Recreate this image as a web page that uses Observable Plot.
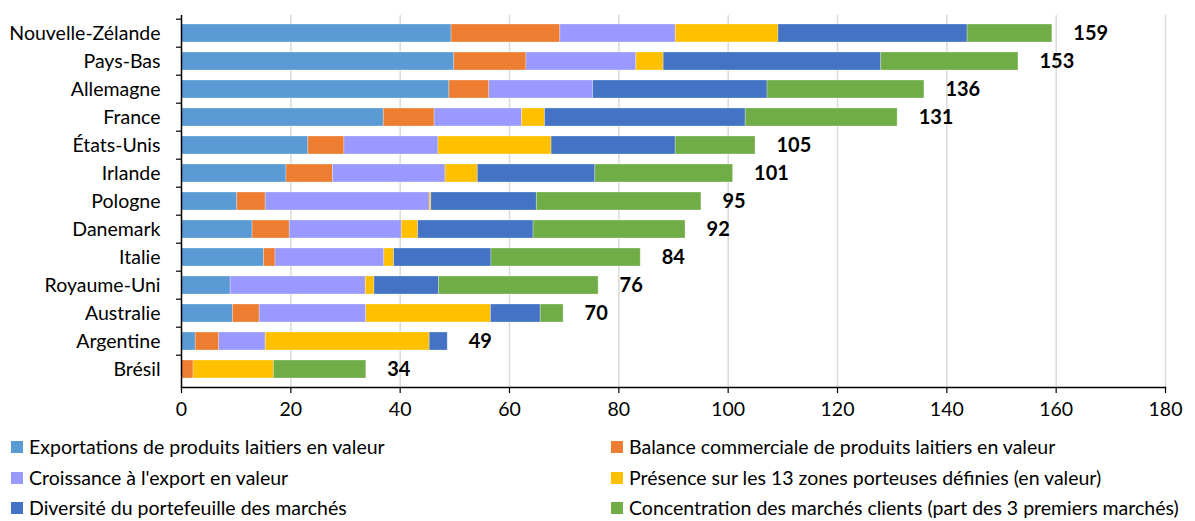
<!DOCTYPE html>
<html>
<head>
<meta charset="utf-8">
<script src="https://cdn.jsdelivr.net/npm/d3@7"></script>
<script src="https://cdn.jsdelivr.net/npm/@observablehq/plot@0.6"></script>
<style>
  html, body { margin: 0; padding: 0; background: #fff; }
  #wrap { width: 1195px; font-family: Lato, "Open Sans", sans-serif; color: #000; }
  #legend { display: grid; grid-template-columns: 600px 595px; grid-auto-rows: 30.5px; margin-top: 7px; font-size: 19.5px; line-height: 1.15; }
  .item { display: flex; align-items: center; }
  .item.l { padding-left: 11px; }
  .item.r { padding-left: 11px; }
  .sw { width: 12px; height: 12px; margin-right: 6px; flex: none; }
</style>
</head>
<body>
<div id="wrap">
  <div id="chart"></div>
  <div id="legend"></div>
</div>
<script>
const countries = ["Nouvelle-Zélande", "Pays-Bas", "Allemagne", "France", "États-Unis", "Irlande", "Pologne", "Danemark", "Italie", "Royaume-Uni", "Australie", "Argentine", "Brésil"];

const seriesNames = [
  "Exportations de produits laitiers en valeur",
  "Balance commerciale de produits laitiers en valeur",
  "Croissance à l'export en valeur",
  "Présence sur les 13 zones porteuses définies (en valeur)",
  "Diversité du portefeuille des marchés",
  "Concentration des marchés clients (part des 3 premiers marchés)"
];
const seriesColors = ["#5B9BD5", "#ED7D31", "#9999FF", "#FFC000", "#4472C4", "#70AD47"];

const exportations   = [49.4, 49.9, 49.0, 37.0, 23.2, 19.2, 10.2, 13.0, 15.1, 9.0, 9.4, 2.6, 0];
const balance        = [19.9, 13.2, 7.3, 9.3, 6.6, 8.5, 5.2, 6.8, 2.1, 0, 4.9, 4.3, 2.2];
const croissance     = [21.1, 20.1, 19.0, 16.0, 17.2, 20.6, 30.0, 20.5, 19.9, 24.7, 19.5, 8.5, 0];
const presence       = [18.8, 5.0, 0, 4.2, 20.7, 5.9, 0.3, 3.0, 1.8, 1.6, 22.8, 30.0, 14.7];
const diversite      = [34.6, 39.8, 31.9, 36.7, 22.7, 21.5, 19.3, 21.1, 17.8, 11.8, 9.1, 3.3, 0];
const concentration  = [15.5, 25.1, 28.7, 27.8, 14.6, 25.2, 30.1, 27.8, 27.3, 29.2, 4.2, 0, 16.9];

const totalLabels = [159, 153, 136, 131, 105, 101, 95, 92, 84, 76, 70, 49, 34];
const xTicks = [0, 20, 40, 60, 80, 100, 120, 140, 160, 180];

const seriesValues = [exportations, balance, croissance, presence, diversite, concentration];

const data = [];
seriesValues.forEach((vals, s) => {
  vals.forEach((v, i) => data.push({country: countries[i], series: seriesNames[s], value: v}));
});
const totals = countries.map((c, i) => ({
  country: c,
  total: seriesValues.reduce((a, vals) => a + vals[i], 0),
  label: String(totalLabels[i])
}));

const H = 425, MT = 15, MB = 38;
const step = (H - MT - MB) / countries.length;

const chart = Plot.plot({
  width: 1195,
  height: H,
  marginTop: MT,
  marginBottom: MB,
  marginLeft: 181,
  marginRight: 30,
  style: {fontFamily: "Lato, 'Open Sans', sans-serif", fontSize: "19.5px", color: "#000", background: "#fff"},
  x: {domain: [0, 180], label: null},
  y: {domain: countries, paddingInner: 0.34, paddingOuter: 0.17, label: null},
  color: {domain: seriesNames, range: seriesColors},
  marks: [
    Plot.gridX(xTicks.slice(1), {stroke: "#d9d9d9", strokeOpacity: 1, strokeWidth: 1.5}),
    Plot.barX(data, {x: "value", y: "country", fill: "series", stroke: "#ffffff", strokeOpacity: 0.35, strokeWidth: 0.8}),
    Plot.text(totals, {x: "total", y: "country", text: "label", dx: 21, textAnchor: "start", fontWeight: "bold", fontSize: 20, fill: "#000"}),
    Plot.ruleX([0], {stroke: "#000", strokeWidth: 1.5}),
    Plot.frame({anchor: "bottom", stroke: "#000", strokeWidth: 1.5}),
    Plot.axisX({ticks: xTicks, tickSize: 6, tickPadding: 9, fontSize: 19.5, stroke: "#000", strokeWidth: 1.2}),
    Plot.axisY({tickSize: 0, tickPadding: 21, fontSize: 19.5}),
    Plot.axisY({text: null, tickSize: 5, dy: -step / 2, stroke: "#000", strokeWidth: 1.2})
  ]
});
document.getElementById("chart").appendChild(chart);

const legend = document.getElementById("legend");
seriesNames.forEach((name, i) => {
  const item = document.createElement("div");
  item.className = "item " + (i % 2 === 0 ? "l" : "r");
  const sw = document.createElement("span");
  sw.className = "sw";
  sw.style.background = seriesColors[i];
  const t = document.createElement("span");
  t.textContent = name;
  item.appendChild(sw);
  item.appendChild(t);
  legend.appendChild(item);
});
</script>
</body>
</html>
